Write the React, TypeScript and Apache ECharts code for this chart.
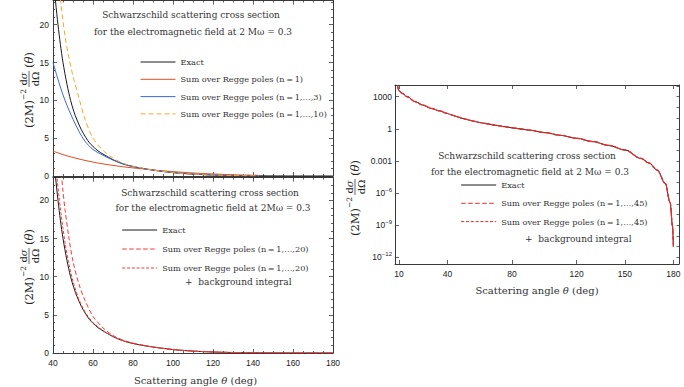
import React, { useEffect, useRef } from 'react';
import * as echarts from 'echarts';

// ---- data ----
const thetaExact = [9, 10, 12, 15, 20, 25, 30, 35, 40, 41.3, 42.5, 43.7, 45, 47, 48.8, 50.4, 52, 54.2, 56.5, 58.2, 60, 62.5, 65, 70, 75, 80, 86, 90, 100, 110, 120, 130, 140, 150, 160, 165, 170, 175, 178, 179.5, 180];
const exactValues = [11000, 3600, 2000, 1000, 340, 160, 80, 48, 27, 23, 20, 17.4, 15, 12.1, 10, 8.55, 7.4, 6.1, 5.05, 4.4, 3.9, 3.32, 2.9, 2.15, 1.6, 1.25, 0.95, 0.78, 0.45, 0.25, 0.13, 0.065, 0.028, 0.0105, 0.0017, 0.00063, 0.00014, 8e-6, 1.3e-7, 8e-10, 1e-11];

const thetaPoles = [40, 42, 44, 46, 48, 50, 53, 56, 60, 65, 70, 75, 80, 90, 100, 110, 120, 130, 143];
const n1Values = [3.3, 3.1, 2.92, 2.75, 2.6, 2.45, 2.25, 2.06, 1.84, 1.6, 1.4, 1.22, 1.07, 0.8, 0.58, 0.4, 0.27, 0.17, 0.09];
const n3Values = [15, 13.2, 11.5, 10, 8.7, 7.5, 5.9, 4.6, 3.5, 2.75, 2.1, 1.6, 1.25, 0.78, 0.45, 0.25, 0.13, 0.065, 0.022];
const n10Values = [34, 27.5, 22.7, 18.5, 15.6, 13.2, 10.3, 7.5, 5.0, 3.4, 2.35, 1.7, 1.3, 0.8, 0.45, 0.25, 0.13, 0.065, 0.022];

const thetaB = [40, 41, 42, 43, 44, 45, 46, 48, 50, 53, 56, 60, 65, 70, 75, 80, 86, 90, 100, 110, 120, 130, 140, 150, 160, 170, 180];
const p20Values = [40, 35, 30, 27, 24, 21.2, 18.8, 15, 12, 9, 6.9, 4.8, 3.3, 2.3, 1.68, 1.3, 0.97, 0.8, 0.46, 0.25, 0.13, 0.065, 0.028, 0.0105, 0.0017, 0.00014, 1e-11];
const p20bgValues = [31, 26.5, 23, 20.5, 18.3, 16.3, 14.5, 11.6, 9.4, 7, 5.4, 4.0, 2.95, 2.17, 1.6, 1.25, 0.95, 0.78, 0.45, 0.25, 0.13, 0.065, 0.028, 0.0105, 0.0017, 0.00014, 1e-11];

const xTicksRight = [10, 40, 80, 120, 150, 180];
const logTickValues = [1e-12, 1e-9, 1e-6, 1e-3, 1, 1000];
const logTickLabels = ['{b|10}{s|−12}', '{b|10}{s|−9}', '{b|10}{s|−6}', '0.001', '1', '1000'];
const logMinorTicks = [1e-12, 1e-11, 1e-10, 1e-9, 1e-8, 1e-7, 1e-6, 1e-5, 1e-4, 1e-3, 1e-2, 1e-1, 1, 10, 100, 1000, 10000];

const T = '\u2009';
const legendLabels: Record<string, string> = {
  exactTop: 'Exact',
  n1: `Sum over Regge poles (n${T}=${T}1)`,
  n3: `Sum over Regge poles (n${T}=${T}1,…,3)`,
  n10: `Sum over Regge poles (n${T}=${T}1,…,10)`,
  exactBottom: 'Exact',
  p20: `Sum over Regge poles (n${T}=${T}1,…,20)`,
  p20bg: `Sum over Regge poles (n${T}=${T}1,…,20)`,
  exactRight: 'Exact',
  p45: `Sum over Regge poles (n${T}=${T}1,…,45)`,
  p45bg: `Sum over Regge poles (n${T}=${T}1,…,45)`,
};

const zip = (xs: number[], ys: number[]) => xs.map((x, i) => [x, ys[i]]);

const FRAME = '#3a3a3a';
const SERIF = 'DejaVu Serif';
const tickFont = { fontFamily: 'Liberation Sans', fontSize: 8.5, color: '#222' };
const axisLine = { show: true, onZero: false, lineStyle: { color: FRAME, width: 1 } };

function linAxis(p: any) {
  return {
    type: 'value',
    gridIndex: p.gridIndex,
    position: p.position,
    min: p.min,
    max: p.max,
    interval: p.interval,
    axisLine,
    axisTick: { show: true, inside: true, length: 4, lineStyle: { color: FRAME, width: 0.8 } },
    minorTick: { show: true, splitNumber: p.minorSplit, length: 2, lineStyle: { color: FRAME, width: 0.8 } },
    splitLine: { show: false },
    minorSplitLine: { show: false },
    axisLabel: {
      show: p.labels,
      ...tickFont,
      margin: p.margin ?? 4,
      showMinLabel: true,
      showMaxLabel: true,
      formatter: (v: number) => (Math.abs(v / p.interval - Math.round(v / p.interval)) < 1e-6 ? String(v) : ''),
    },
  };
}

function line(name: string, xs: number[], ys: number[], xi: number, yi: number, color: string, dash: any, width = 1, mono = false) {
  return {
    type: 'line',
    name,
    xAxisIndex: xi,
    yAxisIndex: yi,
    data: zip(xs, ys),
    symbol: 'none',
    smooth: mono ? 0.35 : 0.3,
    smoothMonotone: mono ? 'x' : undefined,
    lineStyle: { color, width, type: dash },
    itemStyle: { color },
    emphasis: { disabled: true },
  };
}

function legend(data: string[], left: number, top: number, gap: number) {
  return {
    data,
    left,
    top,
    orient: 'vertical',
    itemWidth: 35,
    itemHeight: 10,
    itemGap: gap,
    padding: 0,
    selectedMode: false,
    formatter: (name: string) => legendLabels[name],
    textStyle: { fontFamily: SERIF, fontSize: 8.2, color: '#333', lineHeight: 10 },
    lineStyle: { width: 1 },
    itemStyle: { opacity: 0 },
  };
}

function text(x: number, y: number, str: string, size = 9, align = 'center') {
  return {
    type: 'text',
    x,
    y,
    style: { text: str, fontFamily: SERIF, fontSize: size, fill: '#333', align, verticalAlign: 'middle' },
  };
}

function axisTitle(x: number, y: number) {
  return {
    type: 'text',
    x,
    y,
    style: {
      text: '{n|Scattering angle }{i|θ}{n| (deg)}',
      align: 'center',
      verticalAlign: 'middle',
      rich: {
        n: { fontFamily: SERIF, fontSize: 10, fill: '#333' },
        i: { fontFamily: SERIF, fontSize: 10, fontStyle: 'italic', fill: '#333' },
      },
    },
  };
}

function yLabel(cx: number, cy: number) {
  const c = '#222';
  const st = (t: string, size: number, align = 'left') => ({ text: t, fontFamily: SERIF, fontSize: size, fill: c, align, verticalAlign: 'middle' });
  return {
    type: 'group',
    x: cx,
    y: cy,
    rotation: Math.PI / 2,
    children: [
      { type: 'text', x: -38, y: 0, style: st('(2M)', 11.5) },
      { type: 'text', x: -10, y: -5.5, style: st('−2', 7.5) },
      { type: 'text', x: 11, y: -6, style: { ...st('', 10, 'center'), text: '{a|d}{i|σ}', rich: { a: { fontFamily: SERIF, fontSize: 10, fill: c }, i: { fontFamily: SERIF, fontSize: 10, fontStyle: 'italic', fill: c } } } },
      { type: 'line', shape: { x1: 3, y1: 0, x2: 19, y2: 0 }, style: { stroke: c, lineWidth: 0.7 } },
      { type: 'text', x: 11, y: 6, style: st('dΩ', 10, 'center') },
      { type: 'text', x: 22, y: 0, style: { ...st('', 11.5), text: '{a|(}{i|θ}{a|)}', rich: { a: { fontFamily: SERIF, fontSize: 11.5, fill: c }, i: { fontFamily: SERIF, fontSize: 11.5, fontStyle: 'italic', fill: c } } } },
    ],
  };
}

const option: any = {
  animation: false,
  backgroundColor: '#ffffff',
  grid: [
    { left: 53, top: 0.5, width: 280, height: 175.5, outerBoundsMode: 'none' },
    { left: 53, top: 177.5, width: 280, height: 175.5, outerBoundsMode: 'none' },
    { left: 395, top: 85, width: 284, height: 179, outerBoundsMode: 'none' },
  ],
  xAxis: [
    linAxis({ gridIndex: 0, position: 'bottom', min: 40, max: 180, interval: 20, minorSplit: 4, labels: false }),
    linAxis({ gridIndex: 0, position: 'top', min: 40, max: 180, interval: 20, minorSplit: 4, labels: false }),
    linAxis({ gridIndex: 1, position: 'bottom', min: 40, max: 180, interval: 20, minorSplit: 4, labels: true, margin: 5 }),
    linAxis({ gridIndex: 1, position: 'top', min: 40, max: 180, interval: 20, minorSplit: 4, labels: false }),
    {
      type: 'value', gridIndex: 2, position: 'bottom', min: 7.5, max: 183.5,
      axisLine,
      axisTick: { show: true, inside: true, length: 4, customValues: xTicksRight, lineStyle: { color: FRAME, width: 0.8 } },
      axisLabel: { customValues: xTicksRight, ...tickFont, margin: 5 },
      splitLine: { show: false },
    },
    {
      type: 'value', gridIndex: 2, position: 'top', min: 7.5, max: 183.5,
      axisLine,
      axisTick: { show: true, inside: true, length: 4, customValues: xTicksRight, lineStyle: { color: FRAME, width: 0.8 } },
      axisLabel: { show: false },
      splitLine: { show: false },
    },
  ],
  yAxis: [
    linAxis({ gridIndex: 0, position: 'left', min: 0, max: 23.2, interval: 5, minorSplit: 5, labels: true, margin: 4 }),
    linAxis({ gridIndex: 0, position: 'right', min: 0, max: 23.2, interval: 5, minorSplit: 5, labels: false }),
    linAxis({ gridIndex: 1, position: 'left', min: 0, max: 23, interval: 5, minorSplit: 5, labels: true, margin: 4 }),
    linAxis({ gridIndex: 1, position: 'right', min: 0, max: 23, interval: 5, minorSplit: 5, labels: false }),
    {
      type: 'log', logBase: 1000, gridIndex: 2, position: 'left', min: 2.37e-13, max: 12360,
      axisLine,
      axisTick: { show: true, inside: true, length: 4, lineStyle: { color: FRAME, width: 0.8 } },
      splitLine: { show: false },
      axisLabel: {
        ...tickFont,
        margin: 3,
        showMinLabel: false,
        showMaxLabel: false,
        formatter: (v: number) => {
          const e = Math.log10(v);
          for (let i = 0; i < logTickValues.length; i++) {
            if (Math.abs(Math.log10(logTickValues[i]) - e) < 0.01) return logTickLabels[i];
          }
          return '';
        },
        rich: {
          b: { fontFamily: 'Liberation Sans', fontSize: 8.5, color: '#222' },
          s: { fontFamily: 'Liberation Sans', fontSize: 6, color: '#222', padding: [0, 0, 6, 0] },
        },
      },
    },
    {
      type: 'log', logBase: 10, gridIndex: 2, position: 'right', min: 2.37e-13, max: 12360,
      axisLine,
      axisTick: { show: true, inside: true, length: 2.5, customValues: logMinorTicks, lineStyle: { color: FRAME, width: 0.8 } },
      axisLabel: { show: false },
      splitLine: { show: false },
    },
  ],
  legend: [
    legend(['exactTop', 'n1', 'n3', 'n10'], 140, 57, 7.3),
    legend(['exactBottom', 'p20', 'p20bg'], 121.7, 225, 9),
    legend(['exactRight', 'p45', 'p45bg'], 460.7, 180, 8.3),
  ],
  series: [
    line('exactTop', thetaExact, exactValues, 0, 0, '#1a1a1a', 'solid'),
    line('n1', thetaPoles, n1Values, 0, 0, '#de4f24', 'solid'),
    line('n3', thetaPoles, n3Values, 0, 0, '#3c68d9', 'solid'),
    line('n10', thetaPoles, n10Values, 0, 0, '#f9a825', [5, 3]),
    line('exactBottom', thetaExact, exactValues, 2, 2, '#1a1a1a', 'solid'),
    line('p20', thetaB, p20Values, 2, 2, '#ff3535', [4.5, 2.5]),
    line('p20bg', thetaB, p20bgValues, 2, 2, '#ff3535', [3, 1.8]),
    line('exactRight', thetaExact, exactValues, 4, 4, '#1a1a1a', 'solid', 1, true),
    line('p45', thetaExact, exactValues, 4, 4, '#ee2a2a', [4.5, 2.5], 1.2, true),
    line('p45bg', thetaExact, exactValues, 4, 4, '#ee2a2a', [3, 1.8], 1.2, true),
  ],
  graphic: [
    text(191, 15, 'Schwarzschild scattering cross section'),
    text(193, 32, 'for the electromagnetic field at 2 Mω = 0.3'),
    text(210, 193, 'Schwarzschild scattering cross section'),
    text(213, 208, 'for the electromagnetic field at 2Mω = 0.3'),
    text(185, 281.7, '+  background integral', 9, 'left'),
    text(527, 155.7, 'Schwarzschild scattering cross section'),
    text(530, 172, 'for the electromagnetic field at 2 Mω = 0.3'),
    text(525, 239, '+  background integral', 9, 'left'),
    axisTitle(195.5, 380),
    axisTitle(537, 290),
    yLabel(29, 90),
    yLabel(29, 267),
    yLabel(355, 198),
  ],
};

export default function App() {
  const ref = useRef<HTMLDivElement>(null);
  useEffect(() => {
    const chart = echarts.init(ref.current as HTMLDivElement, null, { renderer: 'svg' });
    chart.setOption(option);
    return () => chart.dispose();
  }, []);
  return <div ref={ref} style={{ position: 'fixed', left: 0, top: 0, width: 684, height: 387, background: '#fff' }} />;
}
